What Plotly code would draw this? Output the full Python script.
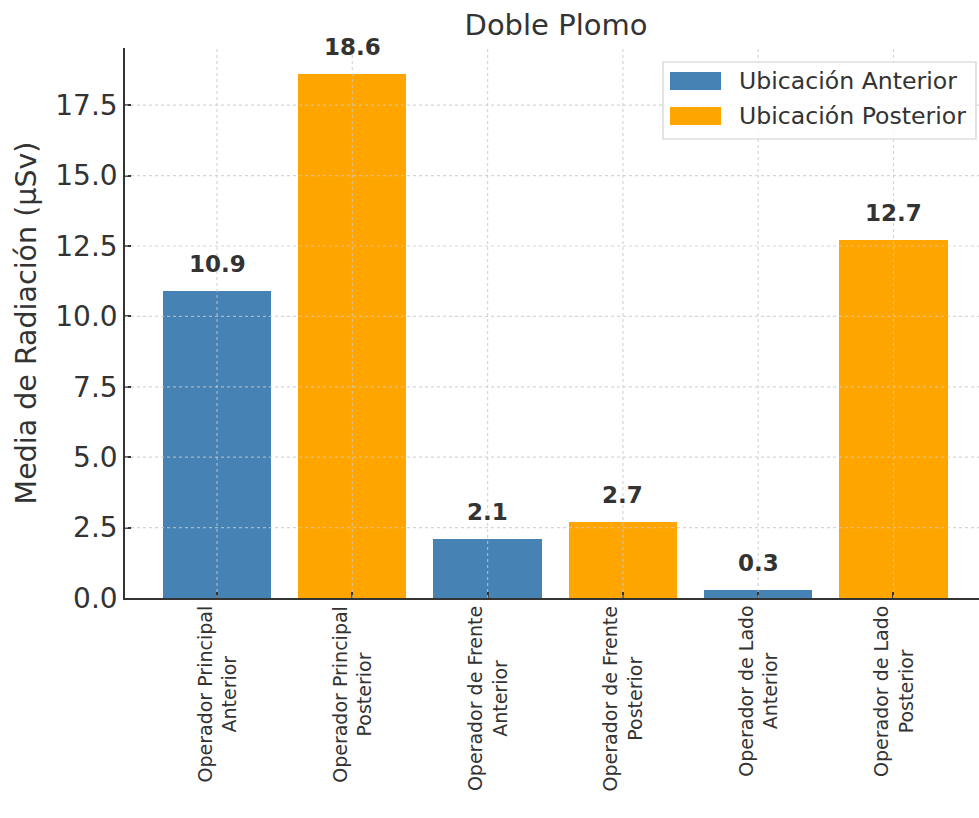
import plotly.graph_objects as go

# Mean radiation per operator position, double lead shielding
categories = [
    "Operador Principal<br>Anterior",
    "Operador Principal<br>Posterior",
    "Operador de Frente<br>Anterior",
    "Operador de Frente<br>Posterior",
    "Operador de Lado<br>Anterior",
    "Operador de Lado<br>Posterior",
]
values = [10.9, 18.6, 2.1, 2.7, 0.3, 12.7]
series_names = ["Ubicación Anterior", "Ubicación Posterior"]
series_of_bar = [0, 1, 0, 1, 0, 1]
series_colors = ["#4682B4", "#FFA500"]
y_ticks = [0.0, 2.5, 5.0, 7.5, 10.0, 12.5, 15.0, 17.5]

FONT = "DejaVu Sans"
TEXT = "#333333"
GRID = "rgba(200,200,200,0.75)"

positions = list(range(len(categories)))
fig = go.Figure()

for s, name in enumerate(series_names):
    xs = [p for p, k in zip(positions, series_of_bar) if k == s]
    ys = [v for v, k in zip(values, series_of_bar) if k == s]
    fig.add_trace(go.Bar(
        x=xs, y=ys, name=name, width=0.8,
        marker=dict(color=series_colors[s], line=dict(width=0)),
        showlegend=False,
    ))

y_max = max(values) * 1.05

# dashed grid drawn over the bars
shapes = []
for p in positions:
    shapes.append(dict(type="line", xref="x", yref="paper", x0=p, x1=p, y0=0, y1=1,
                       line=dict(color=GRID, width=1.2, dash="3px,3px"), layer="above"))
for t in y_ticks[1:]:
    shapes.append(dict(type="line", xref="paper", yref="y", x0=0, x1=1, y0=t, y1=t,
                       line=dict(color=GRID, width=1.2, dash="3px,3px"), layer="above"))

annotations = []
# value labels above each bar
for p, v in zip(positions, values):
    annotations.append(dict(x=p, y=v, xref="x", yref="y", text=f"<b>{v:.1f}</b>",
                            showarrow=False, yanchor="middle", yshift=27,
                            font=dict(family=FONT, size=23, color=TEXT)))
# rotated category labels under the axis
for p, c in zip(positions, categories):
    annotations.append(dict(x=p, y=0, xref="x", yref="paper", text=c, textangle=-90,
                            showarrow=False, xanchor="center", yanchor="top", yshift=-6,
                            align="center",
                            font=dict(family=FONT, size=19, color=TEXT)))

# legend box
shapes.append(dict(type="rect", xref="paper", yref="paper",
                   x0=(663 - 125) / 854, x1=(976 - 125) / 854,
                   y0=(598 - 139) / 550, y1=(598 - 62) / 550,
                   line=dict(color="#d0d0d0", width=1.2), fillcolor="rgba(255,255,255,0.85)",
                   layer="above"))
legend_rows = [81, 116]
for s, name in enumerate(series_names):
    yc = legend_rows[s]
    shapes.append(dict(type="rect", xref="paper", yref="paper",
                       x0=(670 - 125) / 854, x1=(721 - 125) / 854,
                       y0=(598 - yc - 9) / 550, y1=(598 - yc + 9) / 550,
                       line=dict(width=0), fillcolor=series_colors[s], layer="above"))
    annotations.append(dict(x=(737 - 125) / 854, y=(598 - yc) / 550, xref="paper", yref="paper",
                            text=name, showarrow=False, xanchor="left", yanchor="middle",
                            font=dict(family=FONT, size=23.6, color=TEXT)))

fig.update_layout(
    width=979, height=818,
    margin=dict(l=125, r=0, t=48, b=220),
    paper_bgcolor="white", plot_bgcolor="white",
    bargap=0,
    title=dict(text="Doble Plomo", x=556 / 979, xanchor="center",
               y=1 - 25 / 818, yanchor="middle", yref="container",
               font=dict(family=FONT, size=29, color=TEXT)),
    xaxis=dict(range=[-0.68, 5.632], tickvals=positions, showticklabels=False,
               showgrid=False, zeroline=False, showline=True, linecolor=TEXT, linewidth=1.5,
               ticks="inside", ticklen=6, tickcolor=TEXT, tickwidth=1.5),
    yaxis=dict(range=[0, y_max], tickvals=y_ticks, ticktext=[f"{t:.1f}" for t in y_ticks],
               showgrid=False, zeroline=False, showline=True, linecolor=TEXT, linewidth=1.5,
               ticks="inside", ticklen=6, tickcolor=TEXT, tickwidth=1.5,
               tickfont=dict(family=FONT, size=28, color=TEXT),
               title=dict(text="Media de Radiación (µSv)", standoff=10,
                          font=dict(family=FONT, size=28.5, color=TEXT))),
    shapes=shapes, annotations=annotations,
    font=dict(family=FONT, color=TEXT),
)

fig.write_html("out.html")
